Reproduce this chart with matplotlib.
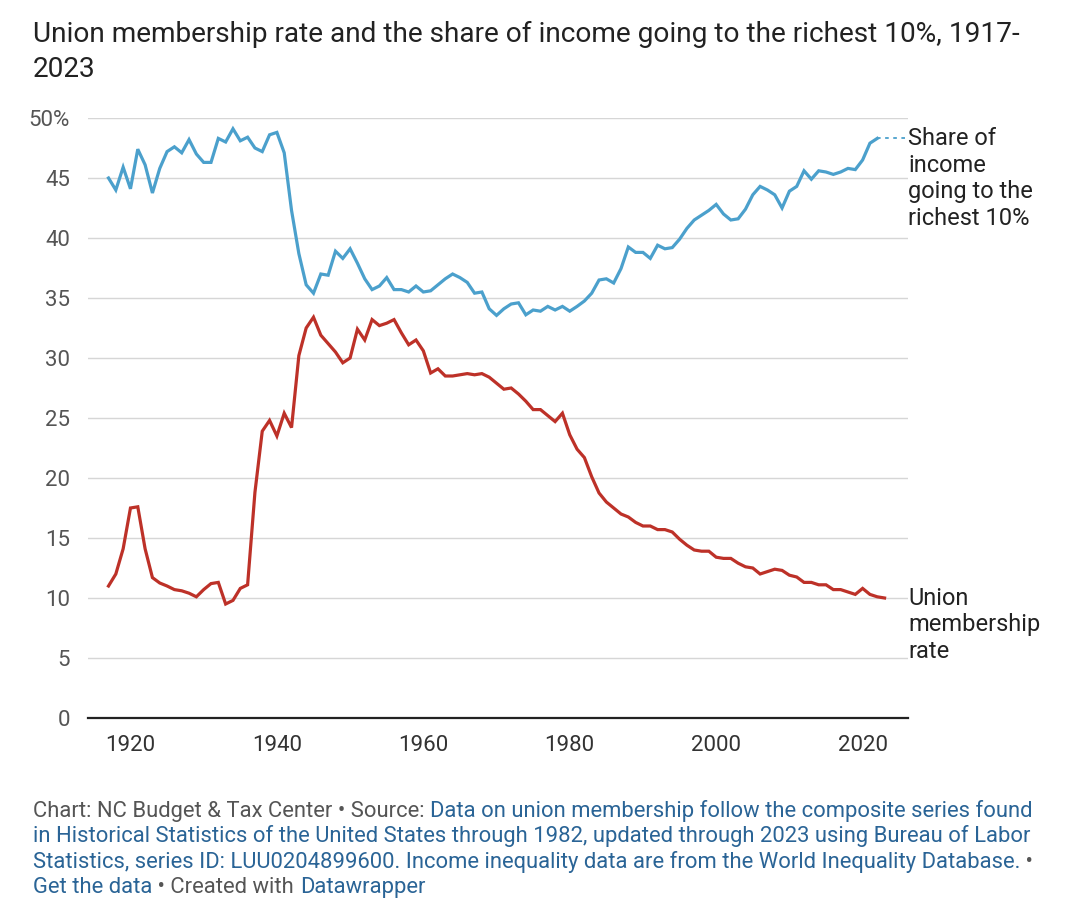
import matplotlib
matplotlib.use("Agg")
import matplotlib.pyplot as plt
import numpy as np

plt.rcParams["font.family"] = ["Roboto", "DejaVu Sans"]

years_union = np.arange(1917, 2024)
union_rate = [
    11.0, 12.0, 14.1, 17.5, 17.6, 14.1, 11.7, 11.25, 11.0, 10.7,
    10.6, 10.4, 10.1, 10.7, 11.2, 11.3, 9.5, 9.8, 10.8, 11.1,
    18.8, 23.9, 24.8, 23.5, 25.4, 24.2, 30.2, 32.5, 33.4, 31.9,
    31.2, 30.5, 29.6, 30.0, 32.4, 31.5, 33.2, 32.7, 32.9, 33.2,
    32.1, 31.1, 31.5, 30.6, 28.75, 29.1, 28.5, 28.5, 28.6, 28.7,
    28.6, 28.7, 28.4, 27.9, 27.4, 27.5, 27.0, 26.4, 25.7, 25.7,
    25.2, 24.7, 25.4, 23.6, 22.4, 21.7, 20.1, 18.75, 18.0, 17.5,
    17.0, 16.75, 16.3, 16.0, 16.0, 15.7, 15.7, 15.5, 14.9, 14.4,
    14.0, 13.9, 13.9, 13.4, 13.3, 13.3, 12.9, 12.6, 12.5, 12.0,
    12.2, 12.4, 12.3, 11.9, 11.75, 11.3, 11.3, 11.1, 11.1, 10.7,
    10.7, 10.5, 10.3, 10.8, 10.3, 10.1, 10.0,
]

years_top10 = np.arange(1917, 2023)
top10_share = [
    45.0, 44.0, 45.9, 44.1, 47.4, 46.1, 43.75, 45.8, 47.2, 47.6,
    47.1, 48.2, 47.0, 46.3, 46.3, 48.3, 48.0, 49.1, 48.1, 48.4,
    47.5, 47.2, 48.6, 48.8, 47.1, 42.3, 38.7, 36.1, 35.4, 37.0,
    36.9, 38.9, 38.3, 39.1, 37.9, 36.6, 35.7, 36.0, 36.7, 35.7,
    35.7, 35.5, 36.0, 35.5, 35.6, 36.1, 36.6, 37.0, 36.7, 36.3,
    35.4, 35.5, 34.1, 33.55, 34.1, 34.5, 34.6, 33.6, 34.0, 33.9,
    34.3, 34.0, 34.3, 33.9, 34.3, 34.75, 35.4, 36.5, 36.6, 36.25,
    37.45, 39.25, 38.8, 38.8, 38.3, 39.4, 39.1, 39.2, 39.9, 40.8,
    41.5, 41.9, 42.3, 42.8, 42.0, 41.5, 41.6, 42.4, 43.6, 44.3,
    44.0, 43.6, 42.5, 43.9, 44.3, 45.6, 44.9, 45.6, 45.5, 45.3,
    45.5, 45.8, 45.7, 46.5, 47.9, 48.3,
]

y_ticks = [0, 5, 10, 15, 20, 25, 30, 35, 40, 45, 50]
y_labels = ["0", "5", "10", "15", "20", "25", "30", "35", "40", "45", "50%"]
x_ticks = [1920, 1940, 1960, 1980, 2000, 2020]

blue = "#4ba0cc"
red = "#bd3128"
link = "#2a6496"
grey = "#555555"

W, H = 1080, 916
fig = plt.figure(figsize=(W / 100, H / 100), dpi=100)
ax = fig.add_axes([88 / W, 1 - 718 / H, 820 / W, 600 / H])

ax.plot(years_top10, top10_share, color=blue, lw=2.3, solid_joinstyle="miter", clip_on=False, zorder=3)
ax.plot(years_union, union_rate, color=red, lw=2.3, solid_joinstyle="miter", clip_on=False, zorder=3)
# dotted connector from the last value to the label
ax.plot([years_top10[-1], 2026.2], [top10_share[-1], top10_share[-1]],
        color=blue, lw=1.3, ls=(0, (2, 2.5)), clip_on=False, zorder=3)

ax.set_xlim(1914.2, 2026.2)
ax.set_ylim(0, 50)
ax.set_yticks(y_ticks)
ax.set_yticklabels(y_labels)
ax.set_xticks(x_ticks)
ax.tick_params(axis="both", length=0, labelsize=16, labelcolor="#333333")
ax.tick_params(axis="y", pad=13, labelcolor="#555555")
ax.tick_params(axis="x", pad=12)
ax.grid(axis="y", color="#d6d6d6", lw=1)
ax.set_axisbelow(True)
for s in ["top", "right", "left"]:
    ax.spines[s].set_visible(False)
ax.spines["bottom"].set_color("#222222")
ax.spines["bottom"].set_linewidth(1.6)
ax.spines["bottom"].set_zorder(4)

for yv, lbl in [(top10_share[-1], "Share of\nincome\ngoing to the\nrichest 10%"),
                (union_rate[-1], "Union\nmembership\nrate")]:
    ax.annotate(lbl, xy=(1.0, yv), xycoords=ax.get_yaxis_transform(),
                xytext=(0, 8), textcoords="offset points",
                ha="left", va="top", fontsize=17, color="#222222",
                linespacing=1.2, annotation_clip=False)

fig.text(33 / W, 1 - 21 / H, "Union membership rate and the share of income going to the richest 10%, 1917-\n2023",
         ha="left", va="top", fontsize=20.2, color="#222222", linespacing=1.36)

# footer with mixed colours
footer = [
    [("Chart: NC Budget & Tax Center • Source: ", grey),
     ("Data on union membership follow the composite series found", link)],
    [("in Historical Statistics of the United States through 1982, updated through 2023 using Bureau of Labor", link)],
    [("Statistics, series ID: LUU0204899600. Income inequality data are from the World Inequality Database.", link),
     (" •", grey)],
    [("Get the data", link), (" • Created with ", grey), ("Datawrapper", link)],
]
y0 = 1 - 817 / H
for i, parts in enumerate(footer):
    y = y0 - i * 25.3 / H
    prev = None
    for txt, col in parts:
        if prev is None:
            prev = fig.text(33 / W, y, txt, ha="left", va="baseline", fontsize=15.8, color=col)
        else:
            prev = ax.annotate(txt, xy=(1, 0), xycoords=prev, ha="left", va="bottom",
                               fontsize=15.8, color=col, annotation_clip=False)

fig.savefig("out.png", dpi=100)
